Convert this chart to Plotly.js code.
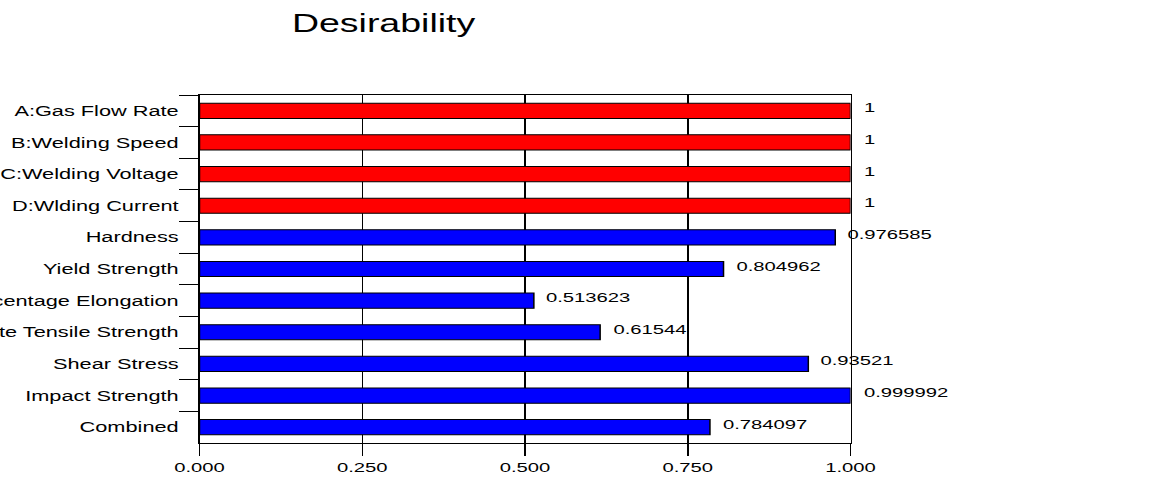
<!DOCTYPE html>
<html>
<head>
<meta charset="utf-8">
<script src="https://cdn.plot.ly/plotly-3.0.1.min.js"></script>
<style>
  html, body { margin: 0; padding: 0; background: #fff; overflow: hidden; }
  #wrap { width: 1173px; height: 478px; overflow: hidden; }
  /* the reference is a horizontally stretched picture: draw at 782px and stretch 1.5x */
  #chart { width: 782px; height: 478px; transform: scaleX(1.5); transform-origin: 0 0; }
</style>
</head>
<body>
<div id="wrap"><div id="chart"></div></div>
<script>
const categories = [
  "A:Gas Flow Rate", "B:Welding Speed", "C:Welding Voltage", "D:Wlding Current",
  "Hardness", "Yield Strength", "Percentage Elongation", "Ultimate Tensile Strength",
  "Shear Stress", "Impact Strength", "Combined"
];
const values = [1, 1, 1, 1, 0.976585, 0.804962, 0.513623, 0.61544, 0.93521, 0.999992, 0.784097];
const valueLabels = ["1", "1", "1", "1", "0.976585", "0.804962", "0.513623", "0.61544", "0.93521", "0.999992", "0.784097"];
const barColors = ["#ff0000", "#ff0000", "#ff0000", "#ff0000", "#0000ff", "#0000ff", "#0000ff", "#0000ff", "#0000ff", "#0000ff", "#0000ff"];
const xTicks = [0, 0.25, 0.5, 0.75, 1.0];

const font = "Liberation Sans, Arial, sans-serif";

const trace = {
  type: "bar",
  orientation: "h",
  y: categories,
  x: values,
  width: 0.48,
  marker: { color: barColors, line: { color: "#000000", width: 1 } },
  hoverinfo: "none"
};

const annotations = categories.map((c, i) => ({
  x: values[i], y: c, xref: "x", yref: "y",
  text: valueLabels[i], showarrow: false,
  xanchor: "left", yanchor: "middle", align: "left",
  xshift: 6.5, yshift: 3,
  font: { family: font, size: 13.5, color: "#000" }
}));

const layout = {
  width: 782, height: 478,
  paper_bgcolor: "#ffffff", plot_bgcolor: "#ffffff",
  margin: { l: 132.7, r: 215.3, t: 95, b: 35, pad: 0 },
  showlegend: false,
  title: {
    text: "Desirability",
    font: { family: font, size: 25, color: "#000" },
    x: 0.327, xref: "container", xanchor: "center",
    y: 0.952, yref: "container", yanchor: "middle"
  },
  xaxis: {
    range: [0, 1],
    tickvals: xTicks,
    tickformat: ".3f",
    ticks: "outside", ticklen: 12, tickcolor: "#000", tickwidth: 1,
    showgrid: true, gridcolor: "#000", gridwidth: 1,
    showline: true, linecolor: "#000", linewidth: 1, mirror: true,
    zeroline: false,
    tickfont: { family: font, size: 13.5, color: "#000" },
    automargin: false, fixedrange: true
  },
  yaxis: {
    type: "category",
    autorange: "reversed",
    tickson: "boundaries",
    ticks: "outside", ticklen: 12.7, tickcolor: "#000", tickwidth: 1,
    ticklabelstandoff: 10,
    showgrid: false,
    showline: true, linecolor: "#000", linewidth: 1, mirror: true,
    zeroline: false,
    tickfont: { family: font, size: 14.5, color: "#000" },
    automargin: false, fixedrange: true
  },
  annotations: annotations
};

Plotly.newPlot("chart", [trace], layout, { displayModeBar: false, staticPlot: true });
</script>
</body>
</html>
